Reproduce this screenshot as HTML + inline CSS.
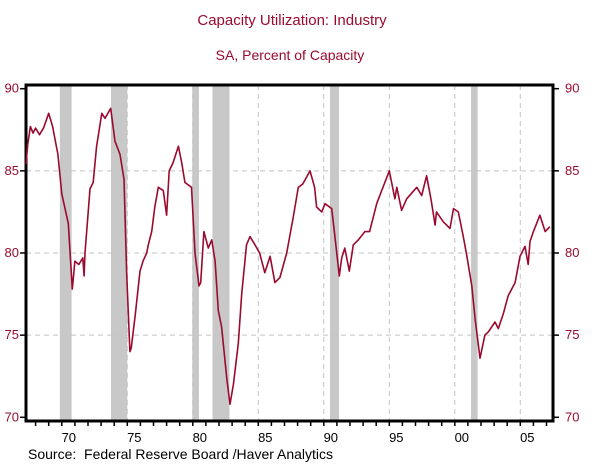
<!DOCTYPE html>
<html><head><meta charset="utf-8"><style>
body{margin:0;background:#fff;}
svg{display:block;font-family:"Liberation Sans",sans-serif;}
</style></head><body>
<svg id="chart" width="614" height="473">
<text x="292" y="25" text-anchor="middle" font-size="15" fill="#9b0a2e">Capacity Utilization: Industry</text>
<text x="290" y="60" text-anchor="middle" font-size="14" fill="#9b0a2e">SA, Percent of Capacity</text>
<g id="rec"></g><g id="grid"></g><g id="axes"></g>
<polyline id="line" fill="none" stroke="#9b0a2e" stroke-width="1.6" stroke-linejoin="round"/>
<text x="28" y="459" font-size="14" fill="#000" style="white-space:pre">Source:  Federal Reserve Board /Haver Analytics</text>
</svg>
<script>
const years=[1967.27,1967.4,1967.6,1967.8,1968.0,1968.3,1968.6,1969.0,1969.3,1969.7,1970.0,1970.5,1970.8,1971.0,1971.3,1971.6,1971.7,1971.77,1972.15,1972.4,1972.66,1973.05,1973.3,1973.73,1974.06,1974.44,1974.75,1974.95,1975.2,1975.3,1975.6,1975.97,1976.2,1976.48,1976.6,1976.86,1977.1,1977.37,1977.75,1978.0,1978.2,1978.5,1978.9,1979.15,1979.4,1979.9,1980.17,1980.47,1980.6,1980.85,1981.18,1981.44,1981.7,1981.95,1982.2,1982.6,1982.84,1983.1,1983.47,1983.73,1984.1,1984.37,1984.75,1985.1,1985.5,1985.9,1986.27,1986.65,1987.17,1987.67,1988.05,1988.4,1988.95,1989.3,1989.45,1989.84,1990.1,1990.6,1990.86,1991.18,1991.37,1991.6,1991.95,1992.25,1992.63,1993.14,1993.5,1994.04,1994.42,1995.0,1995.43,1995.57,1995.94,1996.33,1997.1,1997.47,1997.85,1998.2,1998.5,1998.6,1999.12,1999.63,1999.9,2000.27,2000.65,2000.9,2001.3,2001.55,2001.92,2002.3,2002.56,2003.07,2003.32,2003.7,2004.08,2004.6,2004.98,2005.36,2005.6,2005.74,2006.0,2006.5,2006.9,2007.25];
const values=[85.4,86.6,87.7,87.3,87.6,87.2,87.6,88.5,87.7,86.0,83.6,81.8,77.8,79.5,79.3,79.7,78.6,80.0,83.9,84.3,86.5,88.5,88.2,88.8,86.8,86.0,84.5,78.9,74.0,74.2,76.2,78.9,79.5,80.0,80.5,81.3,82.8,84.0,83.8,82.3,85.0,85.5,86.5,85.5,84.3,84.0,80.0,78.0,78.2,81.3,80.3,80.8,79.5,76.5,75.5,72.3,70.8,72.0,74.5,77.5,80.5,81.0,80.5,80.0,78.8,79.8,78.2,78.5,80.0,82.2,84.0,84.2,85.0,84.0,82.8,82.5,83.0,82.7,80.9,78.6,79.7,80.3,78.9,80.5,80.8,81.3,81.3,83.0,83.8,85.0,83.3,84.0,82.6,83.3,84.0,83.5,84.7,83.2,81.7,82.5,81.9,81.5,82.7,82.5,81.0,79.9,78.0,76.0,73.6,75.0,75.2,75.8,75.4,76.3,77.4,78.2,79.8,80.4,79.3,80.7,81.3,82.3,81.3,81.6];
const recStart=[1969.85,1973.75,1979.96,1981.5,1990.47,2001.24];
const recEnd=[1970.75,1975.0,1980.47,1982.8,1991.16,2001.74];
const yTicks=[70,75,80,85,90];
const xTickYears=[1970,1975,1980,1985,1990,1995,2000,2005];
const xTickLabels=["70","75","80","85","90","95","00","05"];
const NS="http://www.w3.org/2000/svg";
const L=26,R=553,T=85,B=421;
const X=y=>61.8+(y-1970)*13.1;
const Y=v=>88.7+(90-v)*16.43;
function mk(tag,attrs,parent,text){const e=document.createElementNS(NS,tag);for(const k in attrs)e.setAttribute(k,attrs[k]);if(text!==undefined)e.textContent=text;parent.appendChild(e);return e;}
const rec=document.getElementById('rec'),grid=document.getElementById('grid'),axes=document.getElementById('axes');
recStart.forEach((s,i)=>{const r=mk('rect',{x:X(s),y:T,width:X(recEnd[i])-X(s),height:B-T,fill:'#c8c8c8'},rec);

});
[75,80,85].forEach(v=>{const g=mk('line',{x1:L,x2:R,y1:Y(v),y2:Y(v),stroke:'#c4c4c4','stroke-dasharray':'5,4'},grid);

});
xTickYears.forEach((yr,i)=>{const g=mk('line',{x1:X(yr),x2:X(yr),y1:T,y2:B,stroke:'#c4c4c4','stroke-dasharray':'5,4'},grid);


const t=mk('text',{x:X(yr)+7,y:442,'text-anchor':'middle','font-size':13,fill:'#000'},axes,xTickLabels[i]);

});
for(let yr=1968;yr<=2007;yr++){mk('line',{x1:X(yr),x2:X(yr),y1:B,y2:B+5,stroke:'#000','stroke-width':1.5},axes);}
yTicks.forEach(v=>{mk('line',{x1:L-6,x2:L,y1:Y(v),y2:Y(v),stroke:'#000','stroke-width':1.5},axes);
mk('line',{x1:R,x2:R+6,y1:Y(v),y2:Y(v),stroke:'#000','stroke-width':1.5},axes);
const a=mk('text',{x:19,y:Y(v)+4,'text-anchor':'end','font-size':13,fill:'#9b0a2e'},axes,v);


const b=mk('text',{x:565,y:Y(v)+4,'font-size':13,fill:'#9b0a2e'},axes,v);

});
const f=mk('rect',{x:L,y:T,width:R-L,height:B-T,fill:'none',stroke:'#000','stroke-width':3},axes);


document.getElementById('line').setAttribute('points',years.map((y,i)=>X(y).toFixed(1)+','+Y(values[i]).toFixed(1)).join(' '));
</script>
</body></html>
